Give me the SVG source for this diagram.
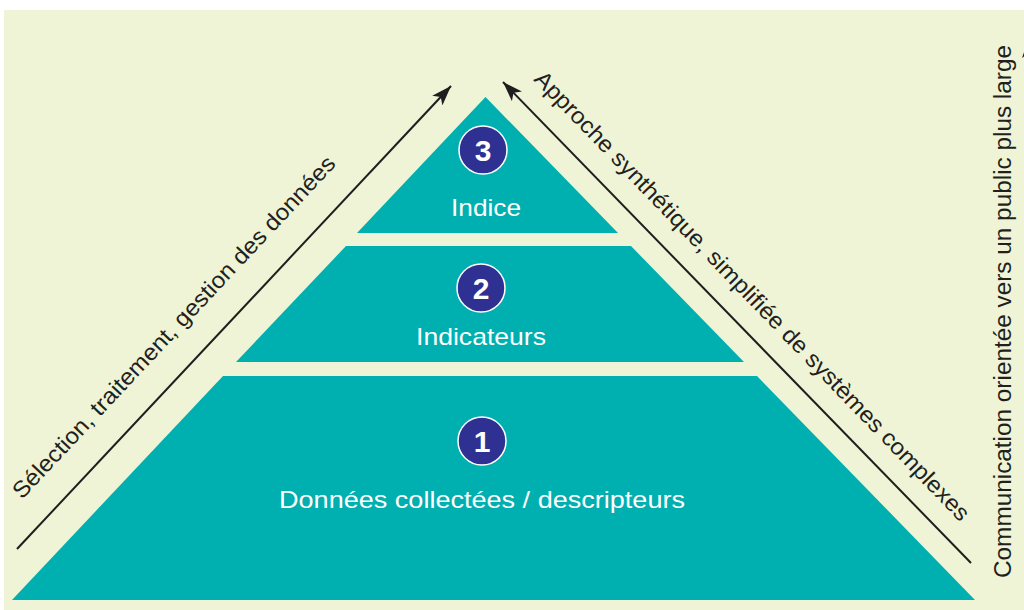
<svg xmlns="http://www.w3.org/2000/svg" width="1024" height="610" viewBox="0 0 1024 610">
  <defs>
    <marker id="arrow" viewBox="0 0 20 14" refX="20" refY="7" markerWidth="20" markerHeight="14" markerUnits="userSpaceOnUse" orient="auto">
      <path d="M0,0 L20,7 L0,14 L5,7 Z" fill="#1e1e1e"/>
    </marker>
    <style>
      .tier { fill: #00afaf; }
      .badge { fill: #2e3192; stroke: #ffffff; stroke-width: 1.5; }
      .num { font-family: "Liberation Sans", Arial, sans-serif; font-weight: bold; font-size: 30px; fill: #ffffff; text-anchor: middle; }
      .lbl { font-family: "Liberation Sans", Arial, sans-serif; font-size: 24px; fill: #ffffff; text-anchor: middle; }
      .side { font-family: "Liberation Sans", Arial, sans-serif; font-size: 23px; fill: #231f20; }
      .conn { stroke: #1e1e1e; stroke-width: 2; fill: none; }
    </style>
  </defs>

  <!-- panel background -->
  <rect x="0" y="0" width="1024" height="610" fill="#ffffff"/>
  <rect x="4" y="10" width="1020" height="600" fill="#eff4d6"/>

  <!-- level 1 -->
  <g id="level-1">
    <polygon class="tier" points="223,376 757,376 975,600 12,600"/>
    <circle class="badge" cx="482" cy="441" r="24"/>
    <text class="num" x="482" y="452">1</text>
    <text class="lbl" x="482" y="508" textLength="406" lengthAdjust="spacingAndGlyphs">Données collectées / descripteurs</text>
  </g>

  <!-- level 2 -->
  <g id="level-2">
    <polygon class="tier" points="346,246 631,246 744,362 236,362"/>
    <circle class="badge" cx="481" cy="288" r="24"/>
    <text class="num" x="481" y="299">2</text>
    <text class="lbl" x="481" y="345" textLength="130" lengthAdjust="spacingAndGlyphs">Indicateurs</text>
  </g>

  <!-- level 3 -->
  <g id="level-3">
    <polygon class="tier" points="485.5,97 618,233 357,233"/>
    <circle class="badge" cx="483" cy="150" r="24"/>
    <text class="num" x="483" y="161">3</text>
    <text class="lbl" x="486" y="216" textLength="70" lengthAdjust="spacingAndGlyphs">Indice</text>
  </g>

  <!-- connectors -->
  <g id="connectors">
    <line class="conn" x1="17" y1="549" x2="451" y2="86" marker-end="url(#arrow)"/>
    <line class="conn" x1="971" y1="563" x2="503" y2="82" marker-end="url(#arrow)"/>
    <line class="conn" x1="1029" y1="590" x2="1029" y2="38" marker-end="url(#arrow)"/>
  </g>

  <!-- side captions -->
  <g id="captions">
    <text class="side" transform="translate(22,500) rotate(-46.8)" textLength="460" lengthAdjust="spacingAndGlyphs">Sélection, traitement, gestion des données</text>
    <text class="side" transform="translate(533,80) rotate(46)" textLength="615" lengthAdjust="spacingAndGlyphs">Approche synthétique, simplifiée de systèmes complexes</text>
    <text class="side" transform="translate(1011,578) rotate(-90)" textLength="533" lengthAdjust="spacingAndGlyphs">Communication orientée vers un public plus large</text>
  </g>
</svg>
